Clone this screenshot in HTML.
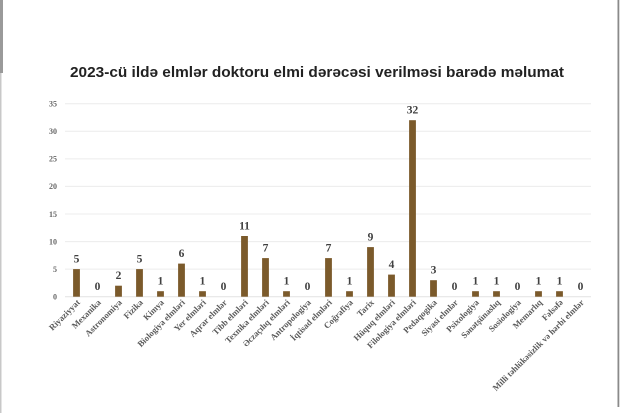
<!DOCTYPE html>
<html><head><meta charset="utf-8"><style>
html,body{margin:0;padding:0;background:#fff;}
svg{display:block;}
</style></head><body>
<svg width="620" height="413" viewBox="0 0 620 413" xmlns="http://www.w3.org/2000/svg">
<rect width="620" height="413" fill="#fff"/>
<rect x="0" y="0" width="3" height="73" fill="#9a9a9a"/>
<rect x="0" y="73" width="1.5" height="340" fill="#c8c8c8"/>
<rect x="617.5" y="0" width="1.8" height="407" fill="#8a8a8a"/>
<text x="70" y="77" textLength="494" lengthAdjust="spacingAndGlyphs" font-family="Liberation Sans, sans-serif" font-weight="bold" font-size="15" fill="#222">2023-cü ildə elmlər doktoru elmi dərəcəsi verilməsi barədə məlumat</text>
<g stroke="#ececec" stroke-width="1">
<line x1="65" y1="103.7" x2="591" y2="103.7"/>
<line x1="65" y1="131.3" x2="591" y2="131.3"/>
<line x1="65" y1="158.9" x2="591" y2="158.9"/>
<line x1="65" y1="186.4" x2="591" y2="186.4"/>
<line x1="65" y1="214.0" x2="591" y2="214.0"/>
<line x1="65" y1="241.6" x2="591" y2="241.6"/>
<line x1="65" y1="269.1" x2="591" y2="269.1"/>
<line x1="65" y1="296.7" x2="591" y2="296.7" stroke="#e2e2e2"/>
</g>
<g font-family="Liberation Serif, serif" font-size="8" fill="#666" text-anchor="end" font-weight="bold">
<text x="57" y="106.5">35</text>
<text x="57" y="134">30</text>
<text x="57" y="161.6">25</text>
<text x="57" y="189.2">20</text>
<text x="57" y="216.8">15</text>
<text x="57" y="244.4">10</text>
<text x="57" y="271.9">5</text>
<text x="57" y="299.5">0</text>
</g>
<g fill="#7b5a2b">
<rect x="73.1" y="269.1" width="6.8" height="27.6"/>
<rect x="115.1" y="285.7" width="6.8" height="11"/>
<rect x="136.1" y="269.1" width="6.8" height="27.6"/>
<rect x="157.1" y="291.2" width="6.8" height="5.5"/>
<rect x="178.1" y="263.6" width="6.8" height="33.1"/>
<rect x="199.1" y="291.2" width="6.8" height="5.5"/>
<rect x="241.1" y="236.0" width="6.8" height="60.7"/>
<rect x="262.1" y="258.1" width="6.8" height="38.6"/>
<rect x="283.1" y="291.2" width="6.8" height="5.5"/>
<rect x="325.1" y="258.1" width="6.8" height="38.6"/>
<rect x="346.1" y="291.2" width="6.8" height="5.5"/>
<rect x="367.1" y="247.1" width="6.8" height="49.6"/>
<rect x="388.1" y="274.6" width="6.8" height="22.1"/>
<rect x="409.1" y="120.2" width="6.8" height="176.5"/>
<rect x="430.1" y="280.2" width="6.8" height="16.5"/>
<rect x="472.1" y="291.2" width="6.8" height="5.5"/>
<rect x="493.1" y="291.2" width="6.8" height="5.5"/>
<rect x="535.1" y="291.2" width="6.8" height="5.5"/>
<rect x="556.1" y="291.2" width="6.8" height="5.5"/>
</g>
<g font-family="Liberation Serif, serif" font-size="11.5" font-weight="bold" fill="#404040" text-anchor="middle">
<text x="76.5" y="262.6">5</text>
<text x="97.5" y="290.2">0</text>
<text x="118.5" y="279.2">2</text>
<text x="139.5" y="262.6">5</text>
<text x="160.5" y="284.7">1</text>
<text x="181.5" y="257.1">6</text>
<text x="202.5" y="284.7">1</text>
<text x="223.5" y="290.2">0</text>
<text x="244.5" y="229.5">11</text>
<text x="265.5" y="251.6">7</text>
<text x="286.5" y="284.7">1</text>
<text x="307.5" y="290.2">0</text>
<text x="328.5" y="251.6">7</text>
<text x="349.5" y="284.7">1</text>
<text x="370.5" y="240.6">9</text>
<text x="391.5" y="268.1">4</text>
<text x="412.5" y="113.7">32</text>
<text x="433.5" y="273.7">3</text>
<text x="454.5" y="290.2">0</text>
<text x="475.5" y="284.7">1</text>
<text x="496.5" y="284.7">1</text>
<text x="517.5" y="290.2">0</text>
<text x="538.5" y="284.7">1</text>
<text x="559.5" y="284.7">1</text>
<text x="580.5" y="290.2">0</text>
</g>
<g font-family="Liberation Serif, serif" font-size="8.7" font-weight="bold" fill="#5a5a5a" text-anchor="end">
<text transform="translate(80.5,303) rotate(-45)">Riyaziyyat</text>
<text transform="translate(101.5,303) rotate(-45)">Mexanika</text>
<text transform="translate(122.5,303) rotate(-45)">Astronomiya</text>
<text transform="translate(143.5,303) rotate(-45)">Fizika</text>
<text transform="translate(164.5,303) rotate(-45)">Kimya</text>
<text transform="translate(185.5,303) rotate(-45)">Biologiya elmləri</text>
<text transform="translate(206.5,303) rotate(-45)">Yer elmləri</text>
<text transform="translate(227.5,303) rotate(-45)">Aqrar elmlər</text>
<text transform="translate(248.5,303) rotate(-45)">Tibb elmləri</text>
<text transform="translate(269.5,303) rotate(-45)">Texnika elmləri</text>
<text transform="translate(290.5,303) rotate(-45)">Əczaçılıq elmləri</text>
<text transform="translate(311.5,303) rotate(-45)">Antropologiya</text>
<text transform="translate(332.5,303) rotate(-45)">İqtisad elmləri</text>
<text transform="translate(353.5,303) rotate(-45)">Coğrafiya</text>
<text transform="translate(374.5,303) rotate(-45)">Tarix</text>
<text transform="translate(395.5,303) rotate(-45)">Hüquq elmləri</text>
<text transform="translate(416.5,303) rotate(-45)">Filologiya elmləri</text>
<text transform="translate(437.5,303) rotate(-45)">Pedaqogika</text>
<text transform="translate(458.5,303) rotate(-45)">Siyasi elmlər</text>
<text transform="translate(479.5,303) rotate(-45)">Psixologiya</text>
<text transform="translate(500.5,303) rotate(-45)">Sənətşünaslıq</text>
<text transform="translate(521.5,303) rotate(-45)">Sosiologiya</text>
<text transform="translate(542.5,303) rotate(-45)">Memarlıq</text>
<text transform="translate(563.5,303) rotate(-45)">Fəlsəfə</text>
<text transform="translate(584.5,303) rotate(-45)">Milli təhlükəsizlik və hərbi elmlər</text>
</g>
</svg>
</body></html>
